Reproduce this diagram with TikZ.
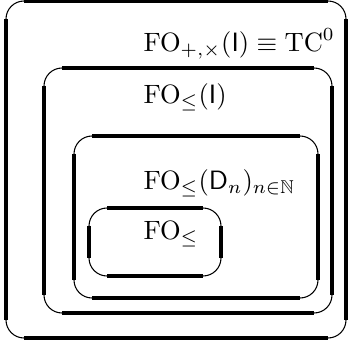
\documentclass[tikz,border=0pt]{standalone}
\usepackage{amsmath,amssymb}
\usepackage{tikz}

% region box: thin rounded corners, heavy straight sides
\newcommand{\regionbox}[4]{%
  \draw[regioncorner] (#1,#2) rectangle (#3,#4);
  \draw[regionside] (#1+18,#2) -- (#3-18,#2);
  \draw[regionside] (#1+18,#4) -- (#3-18,#4);
  \draw[regionside] (#1,#2+18) -- (#1,#4-18);
  \draw[regionside] (#3,#2+18) -- (#3,#4-18);
}

\begin{document}
\begin{tikzpicture}[x=0.377pt,y=-0.377pt,
  regioncorner/.style={line width=0.4pt,rounded corners=6.8pt},
  regionside/.style={line width=1.3pt},
  regionlabel/.style={anchor=base west,inner sep=0pt}]
  \useasboundingbox (0,0) rectangle (351,344);
  \regionbox{6}{1}{346}{338}
  \regionbox{44}{68}{332}{313}
  \regionbox{74}{136}{318}{298}
  \regionbox{89}{208}{221}{276}
  \node[regionlabel] (tc) at (143,52) {$\mathrm{FO}_{+,\times}(\mathsf{I})\equiv\mathrm{TC}^0$};
  \node[regionlabel] (foi) at (143,104) {$\mathrm{FO}_{\leq}(\mathsf{I})$};
  \node[regionlabel] (fod) at (143,190) {$\mathrm{FO}_{\leq}(\mathsf{D}_n)_{n\in\mathbb{N}}$};
  \node[regionlabel] (fo) at (143,240) {$\mathrm{FO}_{\leq}$};
\end{tikzpicture}
\end{document}
